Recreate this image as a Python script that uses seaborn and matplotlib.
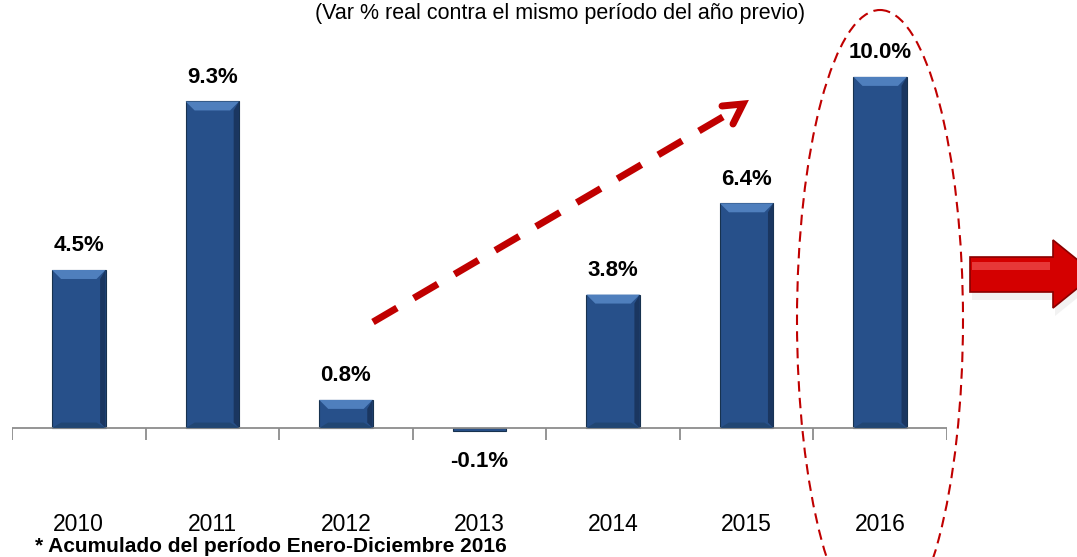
import numpy as np
import pandas as pd
import matplotlib
matplotlib.use("Agg")
import matplotlib.pyplot as plt
from matplotlib import font_manager
from matplotlib.patches import Polygon, Ellipse
import seaborn as sns

# ---- data ----
years = ["2010", "2011", "2012", "2013", "2014", "2015", "2016"]
values = [4.5, 9.3, 0.8, -0.1, 3.8, 6.4, 10.0]
labels = ["4.5%", "9.3%", "0.8%", "-0.1%", "3.8%", "6.4%", "10.0%"]
title = "(Var % real contra el mismo período del año previo)"
footnote = "* Acumulado del período Enero-Diciembre 2016"

sns.set_theme(style="white")
names = {f.name for f in font_manager.fontManager.ttflist}
narrow = "Liberation Sans Narrow" if "Liberation Sans Narrow" in names else "Liberation Sans"
plt.rcParams["font.family"] = [narrow, "DejaVu Sans"]

W, H = 1077, 557
fig = plt.figure(figsize=(W / 100, H / 100), dpi=100)
fig.patch.set_facecolor("white")

# main axes: x spans pixel 12..947, full height
ax = fig.add_axes([12 / W, 0, (947 - 12) / W, 1])
ax.set_facecolor("none")
df = pd.DataFrame({"year": years, "value": values})
BAR = "#27508a"
sns.barplot(data=df, x="year", y="value", color=BAR, saturation=1, width=0.4,
            edgecolor="#17324f", linewidth=0.8, ax=ax)
ax.set_xlim(-0.5, len(years) - 0.5)
ax.set_ylim(-3.675, 12.19)
for s in ax.spines.values():
    s.set_visible(False)
ax.set_xticks([])
ax.set_yticks([])
ax.set_xlabel("")
ax.set_ylabel("")

# pixel per data unit
ppu_y = H / (12.19 + 3.675)
ppu_x = (947 - 12) / len(years)

# bevel effect on bars
for p in ax.patches:
    x0, w, h = p.get_x(), p.get_width(), p.get_height()
    if abs(h) * ppu_y < 12:
        continue
    bx = 9 / ppu_x
    by = 9 / ppu_y
    top = Polygon([(x0, h), (x0 + w, h), (x0 + w - bx, h - by), (x0 + bx, h - by)],
                  closed=True, facecolor="#4f7fbd", edgecolor="none", zorder=p.get_zorder() + 0.1)
    ax.add_patch(top)
    right = Polygon([(x0 + w, h), (x0 + w, 0), (x0 + w - bx * 0.6, by * 0.6), (x0 + w - bx * 0.6, h - by)],
                    closed=True, facecolor="#1a3660", edgecolor="none", zorder=p.get_zorder() + 0.1)
    ax.add_patch(right)
    bot = Polygon([(x0, 0), (x0 + w, 0), (x0 + w - bx, by * 0.6), (x0 + bx, by * 0.6)],
                  closed=True, facecolor="#214673", edgecolor="none", zorder=p.get_zorder() + 0.1)
    ax.add_patch(bot)

# axis line and category boundary ticks
ax.axhline(0, color="#8c8c8c", lw=1.3, zorder=1)
bounds = np.arange(len(years) + 1) - 0.5
ax.vlines(bounds, -12 / ppu_y, 0, color="#8c8c8c", lw=1.3, zorder=1)

# value labels
for i, (v, lab) in enumerate(zip(values, labels)):
    off = 24 if v >= 0 else -34
    ax.annotate(lab, (i, v if v >= 0 else 0), xytext=(0, off * 0.72), textcoords="offset points",
                ha="center", va="center", fontsize=16, fontweight="bold", color="black")

# year labels
for i, y in enumerate(years):
    ax.text(i, -97 / ppu_y, y, ha="center", va="center", fontsize=16.5, color="black")

# overlay axes in pixel coordinates for decorations
ov = fig.add_axes([0, 0, 1, 1])
ov.set_xlim(0, W)
ov.set_ylim(H, 0)
ov.axis("off")
ov.patch.set_alpha(0)

ov.text(560, 14, title, ha="center", va="center", fontsize=15.5, color="black")
ov.text(35, 556, footnote, ha="left", va="bottom", fontsize=15, fontweight="bold", color="black")

# dashed trend arrow
ov.plot([373, 733], [322, 111], color="#c00000", lw=5, ls=(0, (4, 2.8)), solid_capstyle="butt")
ov.plot([722, 743, 733], [106, 104, 124], color="#c00000", lw=5, solid_joinstyle="miter")

# dashed ellipse around 2016
ov.add_patch(Ellipse((880, 320), 166, 620, fill=False, edgecolor="#c00000", lw=1.5, ls=(0, (5, 3))))

# red block arrow at right
arrow_pts = [(970, 257), (1053, 257), (1053, 240), (1095, 274), (1053, 308), (1053, 292), (970, 292)]
ov.add_patch(Polygon([(x + 2, y + 8) for x, y in arrow_pts], closed=True, facecolor="#e6e6e6",
                     edgecolor="none", alpha=0.5))
ov.add_patch(Polygon(arrow_pts, closed=True, facecolor="#d40000", edgecolor="#8a0000", lw=1.2))
ov.add_patch(Polygon([(972, 262), (1050, 262), (1050, 270), (972, 270)], closed=True,
                     facecolor="#f05050", edgecolor="none", alpha=0.7))

fig.savefig("out.png", dpi=100, facecolor="white")
